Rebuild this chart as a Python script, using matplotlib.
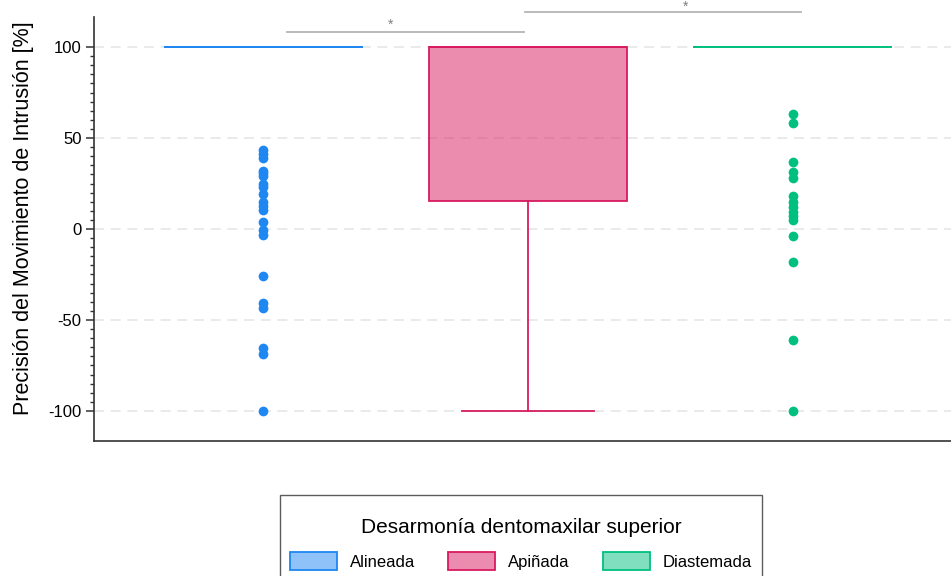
import numpy as np
import matplotlib
matplotlib.use('Agg')
import matplotlib.pyplot as plt
from matplotlib.patches import Patch
from matplotlib.ticker import FixedLocator
from matplotlib.offsetbox import VPacker, DrawingArea

plt.rcParams['font.family'] = ['Liberation Sans', 'DejaVu Sans']
plt.rcParams['axes.unicode_minus'] = False

# ── data ──
groups = ['Alineada', 'Apiñada', 'Diastemada']
colors = ['#1F87F2', '#D81B60', '#00C080']
q1 = [100, 15.5, 100]
med = [100, 100, 100]
q3 = [100, 100, 100]
whislo = [100, -100, 100]
whishi = [100, 100, 100]
out_alineada = [43.5, 41, 39, 32, 30.5, 29, 25, 23, 19, 15, 12.5, 10.5, 4, -0.5, -3.5,
                -26, -40.5, -43.5, -65.5, -68.5, -100]
out_apinada = []
out_diastemada = [63, 58.5, 37, 31.5, 28, 18, 15, 12, 9.5, 7, 5, -4, -18, -61, -100]
outliers = [out_alineada, out_apinada, out_diastemada]

# significance brackets: (x0, x1, y, star x, star y)
sig_pairs = [(0.09, 0.985, 108, 0.48, 110), (0.99, 2.03, 119, 1.596, 120)]
sig_label = '*'

# ── plot ──
fig = plt.figure(figsize=(9.51, 5.76), dpi=100)
ax = fig.add_axes([94/951, 1 - 441/576, (962 - 94)/951, (441 - 17)/576])

stats = []
for i, g in enumerate(groups):
    stats.append({'label': g, 'q1': q1[i], 'med': med[i], 'q3': q3[i],
                  'whislo': whislo[i], 'whishi': whishi[i], 'fliers': []})

pos = np.arange(len(groups))
for i in range(len(groups)):
    c = colors[i]
    ax.bxp([stats[i]], positions=[pos[i]], widths=0.75, patch_artist=True,
           showfliers=False,
           boxprops=dict(facecolor=matplotlib.colors.to_rgba(c, 0.5), edgecolor=c, linewidth=1.3),
           medianprops=dict(color=c, linewidth=1.3),
           whiskerprops=dict(color=c, linewidth=1.3),
           capprops=dict(color=c, linewidth=1.3), capwidths=0.5, zorder=3)
    if outliers[i]:
        ax.plot(np.full(len(outliers[i]), pos[i]), outliers[i], 'o', color=c,
                markersize=7, markeredgewidth=0, zorder=4)

for x0, x1, y, sx, sy in sig_pairs:
    ax.plot([x0, x1], [y, y], color='#b5b5b5', linewidth=1.3, clip_on=False)
    ax.text(sx, sy, sig_label, ha='center', va='baseline',
            fontsize=10, color='#808080', clip_on=False)

ax.set_xlim(-0.64, 2.64)
ax.set_ylim(-116.5, 116.5)
ax.set_yticks([-100, -50, 0, 50, 100])
ax.yaxis.set_minor_locator(FixedLocator(np.arange(-100, 101, 5)))
ax.set_xticks([])
ax.tick_params(axis='y', which='major', length=6, width=1.1, labelsize=12, pad=3, color='#333333')
ax.tick_params(axis='y', which='minor', length=3, width=1.0, color='#333333')
ax.yaxis.grid(True, linestyle=(0, (6, 4)), color='#e6e6e6', linewidth=1.2, zorder=0)
ax.set_axisbelow(True)
for s in ['top', 'right']:
    ax.spines[s].set_visible(False)
for s in ['left', 'bottom']:
    ax.spines[s].set_color('#333333')
    ax.spines[s].set_linewidth(1.2)
ax.set_ylabel('Precisión del Movimiento de Intrusión [%]', fontsize=15.5)
ax.yaxis.set_label_coords(-0.069, 0.526)

handles = [Patch(facecolor=matplotlib.colors.to_rgba(c, 0.5), edgecolor=c, linewidth=1.3)
           for c in colors]
leg = fig.legend(handles, groups, loc='upper center', bbox_to_anchor=(521/951, 1 - 495/576),
                 ncol=3, fontsize=12, title='Desarmonía dentomaxilar superior',
                 title_fontsize=15, frameon=True, fancybox=False, edgecolor='#333333',
                 handlelength=2.8, handleheight=1.2, handletextpad=0.78, columnspacing=2.0,
                 borderpad=0.6, borderaxespad=0)
leg.get_frame().set_linewidth(1.0)
# extra space above the legend title only
kids = leg._legend_box.get_children()
kids[0] = VPacker(children=[DrawingArea(1, 9.5), kids[0]], pad=0, sep=0, align='center')
leg._legend_box._children = kids
leg._legend_box.sep = 11

fig.savefig('out.png', dpi=100)
